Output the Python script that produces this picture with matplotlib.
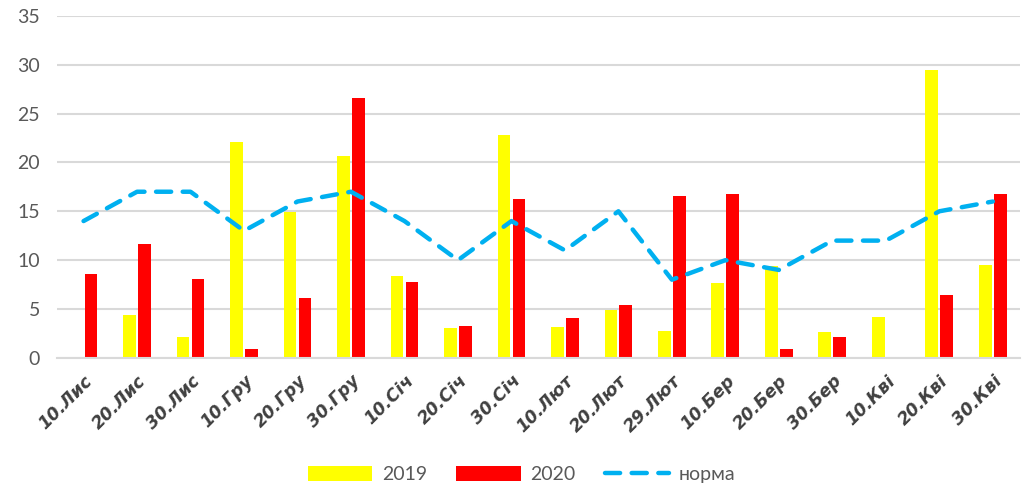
import matplotlib
matplotlib.use("Agg")
import matplotlib.pyplot as plt
import numpy as np

# decades (10-day periods), Nov - Apr
categories = ["10.Лис", "20.Лис", "30.Лис", "10.Гру", "20.Гру", "30.Гру",
              "10.Січ", "20.Січ", "30.Січ", "10.Лют", "20.Лют", "29.Лют",
              "10.Бер", "20.Бер", "30.Бер", "10.Кві", "20.Кві", "30.Кві"]
values_2019 = [0, 4.4, 2.1, 22.1, 14.9, 20.7, 8.4, 3.1, 22.8, 3.2, 4.9, 2.8,
               7.7, 9.4, 2.7, 4.2, 29.5, 9.5]
values_2020 = [8.6, 11.7, 8.1, 0.9, 6.1, 26.6, 7.8, 3.3, 16.3, 4.1, 5.4, 16.6,
               16.8, 0.9, 2.1, 0, 6.4, 16.8]
norm = [14, 17, 17, 13, 16, 17, 14, 10, 14, 11, 15, 8, 10, 9, 12, 12, 15, 16]

plt.rcParams["font.family"] = ["Lato", "DejaVu Sans"]

fig = plt.figure(figsize=(10.33, 4.93), dpi=100)
ax = fig.add_axes([0.055, 0.274, 0.932, 0.694])

x = np.arange(len(categories))
bw = 0.24
b1 = ax.bar(x - 0.14, values_2019, width=bw, color="#ffff00", label="2019", zorder=2)
b2 = ax.bar(x + 0.14, values_2020, width=bw, color="#ff0000", label="2020", zorder=2)
ln, = ax.plot(x, norm, color="#00b0f0", lw=3.2, dashes=(3.4, 2.6),
              dash_capstyle="round", solid_capstyle="round", label="норма", zorder=3)

ax.set_xlim(-0.5, len(categories) - 0.5)
ax.set_ylim(0, 35)
ax.set_yticks(range(0, 36, 5))
ax.yaxis.grid(True, color="#d9d9d9", lw=1.5, zorder=0)
ax.set_axisbelow(True)
for s in ["top", "right", "left"]:
    ax.spines[s].set_visible(False)
ax.spines["bottom"].set_color("#d9d9d9")
ax.spines["bottom"].set_linewidth(1.5)
ax.tick_params(axis="both", length=0)
ax.tick_params(axis="y", labelsize=14, labelcolor="#595959", pad=12)

ax.set_xticks(x)
ax.set_xticklabels(categories, rotation=45, ha="right", rotation_mode="anchor",
                   fontsize=12.5, fontweight="bold", fontstyle="italic",
                   color="#404040", family=["DejaVu Sans"])
ax.tick_params(axis="x", pad=10)

fig.legend([b1, b2, ln], ["2019", "2020", "норма"], loc="lower center",
           bbox_to_anchor=(0.505, -0.015), ncol=3, frameon=False, fontsize=14,
           handlelength=3.3, handleheight=0.8, handletextpad=0.5,
           columnspacing=1.5, labelcolor="#595959")

fig.savefig("out.png", dpi=100)
